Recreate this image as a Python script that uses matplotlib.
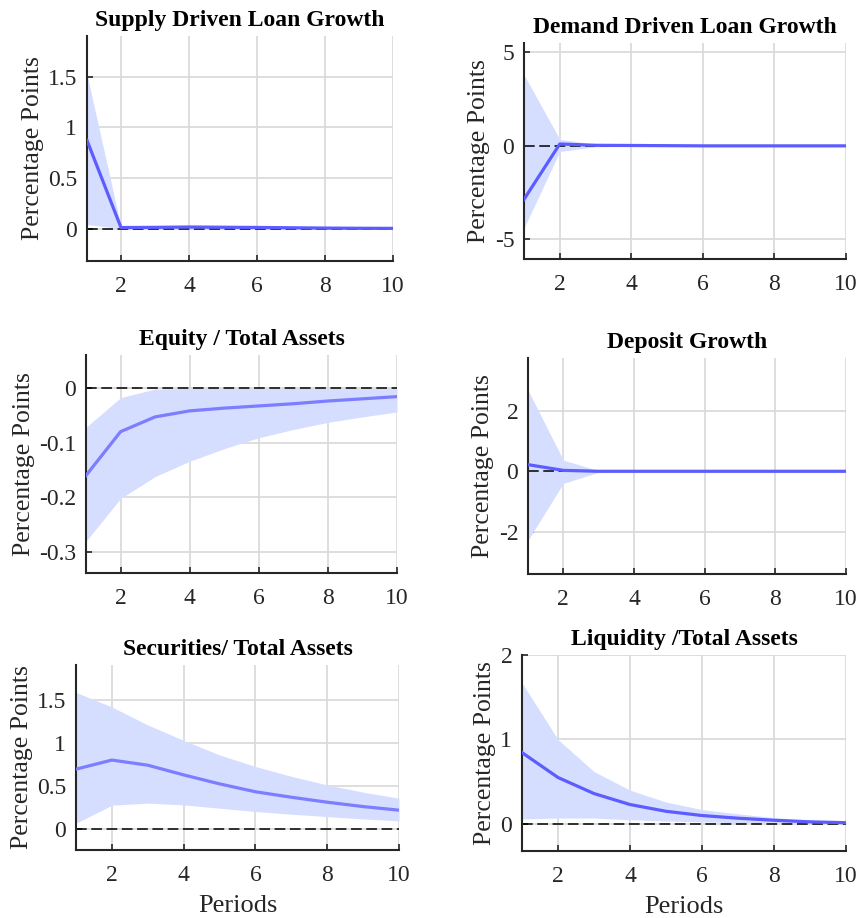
import numpy as np
import matplotlib.pyplot as plt

plt.rcParams['font.family'] = ['Liberation Serif', 'DejaVu Serif']

periods = np.arange(1, 11)

titles = ["Supply Driven Loan Growth", "Demand Driven Loan Growth",
          "Equity / Total Assets", "Deposit Growth",
          "Securities/ Total Assets", "Liquidity /Total Assets"]

supply_mid = [0.87, 0.01, 0.012, 0.015, 0.013, 0.011, 0.008, 0.005, 0.003, 0.002]
supply_hi = [1.52, 0.02, 0.03, 0.035, 0.03, 0.025, 0.02, 0.012, 0.008, 0.005]
supply_lo = [0.04, 0.0, 0.0, 0.0, 0.0, 0.0, 0.0, 0.0, -0.002, -0.003]

demand_mid = [-2.86, 0.1, 0.03, 0.02, 0.01, 0.0, 0.0, 0.0, 0.0, 0.0]
demand_hi = [3.8, 0.35, 0.08, 0.05, 0.03, 0.02, 0.01, 0.01, 0.01, 0.01]
demand_lo = [-4.4, -0.3, -0.05, -0.03, -0.02, -0.02, -0.01, -0.01, -0.01, -0.01]

equity_mid = [-0.16, -0.080, -0.053, -0.042, -0.037, -0.033, -0.029, -0.024, -0.020, -0.016]
equity_hi = [-0.072, -0.018, -0.002, -0.001, -0.001, -0.001, -0.001, -0.001, -0.001, -0.001]
equity_lo = [-0.28, -0.202, -0.162, -0.134, -0.111, -0.091, -0.076, -0.063, -0.053, -0.044]

deposit_mid = [0.22, 0.03, 0.0, 0.0, 0.0, 0.0, 0.0, 0.0, 0.0, 0.0]
deposit_hi = [2.69, 0.37, 0.02, 0.01, 0.01, 0.01, 0.01, 0.01, 0.01, 0.01]
deposit_lo = [-2.28, -0.40, -0.03, -0.01, -0.01, -0.01, -0.01, -0.01, -0.01, -0.01]

secur_mid = [0.694, 0.80, 0.74, 0.627, 0.522, 0.43, 0.366, 0.308, 0.257, 0.215]
secur_hi = [1.59, 1.42, 1.21, 1.03, 0.86, 0.725, 0.61, 0.51, 0.425, 0.355]
secur_lo = [0.063, 0.273, 0.297, 0.277, 0.238, 0.199, 0.168, 0.14, 0.113, 0.09]

liq_mid = [0.845, 0.55, 0.36, 0.23, 0.15, 0.10, 0.068, 0.044, 0.025, 0.015]
liq_hi = [1.67, 1.0, 0.62, 0.40, 0.26, 0.17, 0.12, 0.075, 0.045, 0.025]
liq_lo = [0.06, 0.07, 0.07, 0.05, 0.035, 0.025, 0.015, 0.01, 0.005, 0.003]

series = [(supply_mid, supply_lo, supply_hi), (demand_mid, demand_lo, demand_hi),
          (equity_mid, equity_lo, equity_hi), (deposit_mid, deposit_lo, deposit_hi),
          (secur_mid, secur_lo, secur_hi), (liq_mid, liq_lo, liq_hi)]

ylims = [(-0.32, 1.9), (-6.05, 5.5), (-0.338, 0.06), (-3.4, 3.75), (-0.25, 1.91), (-0.32, 2.0)]
yticks = [[0, 0.5, 1, 1.5], [-5, 0, 5], [-0.3, -0.2, -0.1, 0], [-2, 0, 2],
          [0, 0.5, 1, 1.5], [0, 1, 2]]
line_colors = ['#5c5cff', '#5c5cff', '#7d7dff', '#5c5cff', '#7d7dff', '#5c5cff']

# axes boxes in pixels: left, right, top, bottom
boxes = [(87, 393, 36, 261), (524, 846, 43, 259),
         (86, 397, 355, 573), (528, 846, 358, 574),
         (76, 399, 665, 850), (522, 846, 655, 851)]

W, H = 858, 918
fig = plt.figure(figsize=(W / 100, H / 100), dpi=100)

for i, (mid, lo, hi) in enumerate(series):
    l, r, t, b = boxes[i]
    ax = fig.add_axes([l / W, (H - b) / H, (r - l) / W, (b - t) / H])
    ax.fill_between(periods, lo, hi, color='#d5deff', linewidth=0, zorder=1)
    ax.axhline(0, color='black', linestyle=(0, (7, 3)), linewidth=1.1, zorder=2)
    ax.plot(periods, mid, color=line_colors[i], linewidth=2.3, zorder=3)
    ax.set_xlim(1, 10)
    ax.set_ylim(*ylims[i])
    ax.set_xticks([2, 4, 6, 8, 10])
    ax.set_yticks(yticks[i])
    ax.set_yticklabels([f'{v:g}' for v in yticks[i]])
    ax.grid(True, color='#d8d8d8', linewidth=1.2, zorder=0)
    ax.set_axisbelow(True)
    for side in ['top', 'right']:
        ax.spines[side].set_visible(False)
    for side in ['left', 'bottom']:
        ax.spines[side].set_linewidth(1.5)
        ax.spines[side].set_color('#262626')
    ax.tick_params(direction='in', length=4, width=1.2, labelsize=17, colors='#262626')
    ax.tick_params(axis='x', pad=11)
    ax.tick_params(axis='y', pad=7)
    ax.set_title(titles[i], fontsize=17, fontweight='bold', pad=7)
    ax.set_ylabel('Percentage Points', fontsize=18.5, labelpad=3, color='#262626')
    if i >= 4:
        ax.set_xlabel('Periods', fontsize=19, labelpad=6, color='#262626')

fig.savefig('out.png', dpi=100)
